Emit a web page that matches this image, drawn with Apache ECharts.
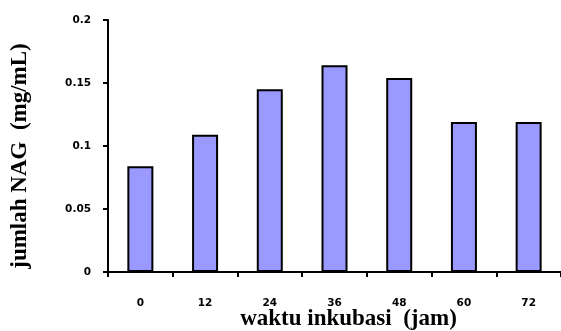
<!DOCTYPE html>
<html>
<head>
<meta charset="utf-8">
<script src="https://cdn.jsdelivr.net/npm/echarts@6/dist/echarts.min.js"></script>
<style>html,body{margin:0;padding:0;background:#fff}#c{width:561px;height:331px}</style>
</head>
<body>
<div id="c"></div>
<script>
const categories = ['0', '12', '24', '36', '48', '60', '72'];
const nagValues = [0.084, 0.109, 0.145, 0.164, 0.154, 0.119, 0.119];
const yTicks = { min: 0, max: 0.2, interval: 0.05 };
const xName = 'waktu inkubasi  (jam)';
const yName = 'jumlah NAG  (mg/mL)';

const chart = echarts.init(document.getElementById('c'), null, { renderer: 'canvas' });
const tickFont = { fontFamily: 'DejaVu Sans', fontWeight: 'bold', fontSize: 10.5, color: '#000' };
chart.setOption({
  animation: false,
  backgroundColor: '#fff',
  grid: { left: 108, top: 20, width: 466, height: 252, containLabel: false },
  xAxis: {
    type: 'category',
    data: categories,
    axisLine: { lineStyle: { color: '#000', width: 2 } },
    axisTick: { show: true, inside: false, length: 5, lineStyle: { color: '#000', width: 2 } },
    axisLabel: Object.assign({ margin: 26 }, tickFont),
    splitLine: { show: false }
  },
  yAxis: {
    type: 'value',
    min: yTicks.min, max: yTicks.max, interval: yTicks.interval,
    axisLine: { show: true, lineStyle: { color: '#000', width: 2 } },
    axisTick: { show: true, inside: false, length: 5, lineStyle: { color: '#000', width: 2 } },
    axisLabel: Object.assign({ margin: 17 }, tickFont),
    splitLine: { show: false }
  },
  series: [{
    type: 'bar',
    data: nagValues,
    barWidth: 26,
    itemStyle: { color: '#9999FF', borderColor: '#000', borderWidth: 2 }
  }],
  graphic: [
    { type: 'text', x: 348.5, y: 319, style: { text: xName, font: 'bold 23px "Liberation Serif"', fill: '#000', textAlign: 'center', textVerticalAlign: 'middle' } },
    { type: 'text', x: 20, y: 156, rotation: Math.PI / 2, style: { text: yName, font: 'bold 23px "Liberation Serif"', fill: '#000', textAlign: 'center', textVerticalAlign: 'middle' } }
  ]
});
</script>
</body>
</html>
